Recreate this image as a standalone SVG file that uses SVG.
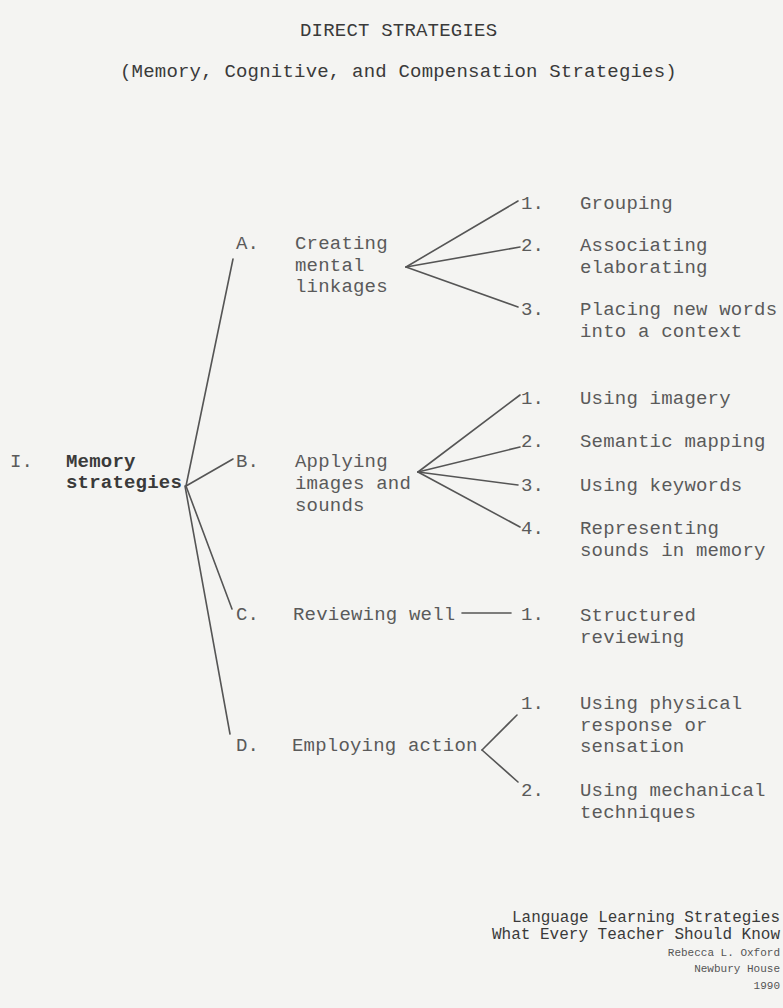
<svg xmlns="http://www.w3.org/2000/svg" width="783" height="1008" viewBox="0 0 783 1008">
<style>
  text { font-family: "Liberation Mono", "Courier New", monospace; font-size: 19px; fill: #5a5a5a; letter-spacing: 0.2px; }
  .title { fill: #3a3a3a; }
  .bold { font-weight: bold; fill: #3a3a3a; }
  .cite { fill: #3a3a3a; font-size: 16px; letter-spacing: 0; }
  .cite2 { fill: #555; font-size: 11px; letter-spacing: 0; text-anchor: end; }
  #connectors line { stroke: #555; stroke-width: 1.6; stroke-linecap: round; }
</style>
<rect x="0" y="0" width="783" height="1008" fill="#f4f4f2"/>

<g id="title">
  <text class="title" x="300" y="36">DIRECT STRATEGIES</text>
  <text class="title" x="120" y="77">(Memory, Cognitive, and Compensation Strategies)</text>
</g>

<g id="connectors">
  <line x1="186" y1="486" x2="233" y2="259"/>
  <line x1="186" y1="486" x2="233" y2="459"/>
  <line x1="186" y1="486" x2="232" y2="609"/>
  <line x1="185" y1="486" x2="230" y2="734"/>
  <line x1="406" y1="267" x2="518" y2="201"/>
  <line x1="406" y1="267" x2="520" y2="247"/>
  <line x1="406" y1="267" x2="518" y2="307"/>
  <line x1="418" y1="472" x2="520" y2="395"/>
  <line x1="418" y1="472" x2="520" y2="447"/>
  <line x1="418" y1="472" x2="518" y2="485"/>
  <line x1="418" y1="472" x2="520" y2="527"/>
  <line x1="462" y1="613" x2="511" y2="613"/>
  <line x1="482" y1="750" x2="517" y2="715"/>
  <line x1="482" y1="750" x2="518" y2="782"/>
</g>

<g id="node-I">
  <text x="10" y="467">I.</text>
  <text class="bold" x="66" y="467">Memory</text>
  <text class="bold" x="66" y="488">strategies</text>
</g>

<g id="node-A">
  <text x="236" y="249">A.</text>
  <text x="295" y="249">Creating</text>
  <text x="295" y="271">mental</text>
  <text x="295" y="292">linkages</text>
</g>
<g id="node-A1">
  <text x="521" y="209">1.</text>
  <text x="580" y="209">Grouping</text>
</g>
<g id="node-A2">
  <text x="521" y="251">2.</text>
  <text x="580" y="251">Associating</text>
  <text x="580" y="273">elaborating</text>
</g>
<g id="node-A3">
  <text x="521" y="315">3.</text>
  <text x="580" y="315">Placing new words</text>
  <text x="580" y="337">into a context</text>
</g>

<g id="node-B">
  <text x="236" y="467">B.</text>
  <text x="295" y="467">Applying</text>
  <text x="295" y="489">images and</text>
  <text x="295" y="511">sounds</text>
</g>
<g id="node-B1">
  <text x="521" y="404">1.</text>
  <text x="580" y="404">Using imagery</text>
</g>
<g id="node-B2">
  <text x="521" y="447">2.</text>
  <text x="580" y="447">Semantic mapping</text>
</g>
<g id="node-B3">
  <text x="521" y="491">3.</text>
  <text x="580" y="491">Using keywords</text>
</g>
<g id="node-B4">
  <text x="521" y="534">4.</text>
  <text x="580" y="534">Representing</text>
  <text x="580" y="556">sounds in memory</text>
</g>

<g id="node-C">
  <text x="236" y="620">C.</text>
  <text x="293" y="620">Reviewing well</text>
</g>
<g id="node-C1">
  <text x="521" y="620">1.</text>
  <text x="580" y="621">Structured</text>
  <text x="580" y="643">reviewing</text>
</g>

<g id="node-D">
  <text x="236" y="751">D.</text>
  <text x="292" y="751">Employing action</text>
</g>
<g id="node-D1">
  <text x="521" y="709">1.</text>
  <text x="580" y="709">Using physical</text>
  <text x="580" y="731">response or</text>
  <text x="580" y="752">sensation</text>
</g>
<g id="node-D2">
  <text x="521" y="796">2.</text>
  <text x="580" y="796">Using mechanical</text>
  <text x="580" y="818">techniques</text>
</g>

<g id="citation">
  <text class="cite" x="512" y="922" textLength="268" lengthAdjust="spacingAndGlyphs">Language Learning Strategies</text>
  <text class="cite" x="492" y="939" textLength="288" lengthAdjust="spacingAndGlyphs">What Every Teacher Should Know</text>
  <text class="cite2" x="780" y="956">Rebecca L. Oxford</text>
  <text class="cite2" x="780" y="972">Newbury House</text>
  <text class="cite2" x="780" y="989">1990</text>
</g>
</svg>
